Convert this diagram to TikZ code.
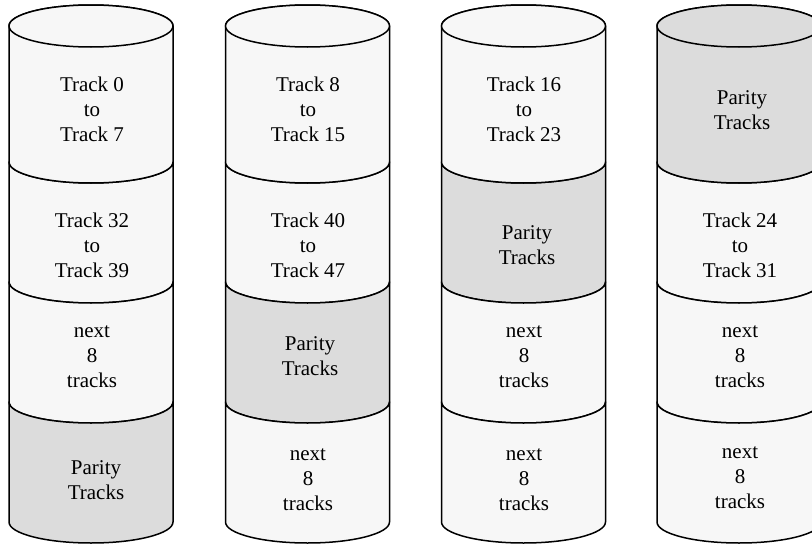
\documentclass[tikz,border=0pt]{standalone}
\usepackage{fontspec}
\setmainfont{Liberation Serif}
\definecolor{bandlight}{HTML}{F7F7F7}
\definecolor{bandgrey}{HTML}{DCDCDC}

% top band of a disk: cx, fill
\newcommand\disktop[2]{%
  \filldraw[disk, fill=#2] (#1-82,-26) -- (#1-82,-162)
    arc[start angle=180, end angle=360, x radius=82, y radius=21]
    -- (#1+82,-26)
    arc[start angle=0, end angle=180, x radius=82, y radius=21] -- cycle;
  \filldraw[disk, fill=#2] (#1,-26) ellipse[x radius=82, y radius=21];
}
% lower band of a disk: cx, upper side y, lower side y, fill
\newcommand\diskband[4]{%
  \filldraw[disk, fill=#4] (#1-82,#2) -- (#1-82,#3)
    arc[start angle=180, end angle=360, x radius=82, y radius=21]
    -- (#1+82,#2)
    arc[start angle=360, end angle=180, x radius=82, y radius=21] -- cycle;
}

\begin{document}
\begin{tikzpicture}[x=1pt, y=1pt,
  disk/.style={draw=black, line width=1.5pt, line join=round},
  label/.style={align=center, font=\fontsize{21}{25}\selectfont, inner sep=0pt}]
\useasboundingbox (0,0) rectangle (812,-546);

% disk 1
\diskband{91}{-162}{-282}{bandlight}
\diskband{91}{-282}{-402}{bandlight}
\diskband{91}{-402}{-522}{bandgrey}
\disktop{91}{bandlight}
% disk 2
\diskband{307.5}{-162}{-282}{bandlight}
\diskband{307.5}{-282}{-402}{bandgrey}
\diskband{307.5}{-402}{-522}{bandlight}
\disktop{307.5}{bandlight}
% disk 3
\diskband{523.5}{-162}{-282}{bandgrey}
\diskband{523.5}{-282}{-402}{bandlight}
\diskband{523.5}{-402}{-522}{bandlight}
\disktop{523.5}{bandlight}
% disk 4
\diskband{739}{-162}{-282}{bandlight}
\diskband{739}{-282}{-402}{bandlight}
\diskband{739}{-402}{-522}{bandlight}
\disktop{739}{bandgrey}

% band labels
\node[label] (d1a) at (92,-109) {Track 0\\to\\Track 7};
\node[label] (d1b) at (92,-245) {Track 32\\to\\Track 39};
\node[label] (d1c) at (92,-357) {next\\8\\tracks};
\node[label] (d1d) at (96,-480) {Parity\\Tracks};

\node[label] (d2a) at (308,-109) {Track 8\\to\\Track 15};
\node[label] (d2b) at (308,-245) {Track 40\\to\\Track 47};
\node[label] (d2c) at (310,-356) {Parity\\Tracks};
\node[label] (d2d) at (308,-480) {next\\8\\tracks};

\node[label] (d3a) at (524,-109) {Track 16\\to\\Track 23};
\node[label] (d3b) at (527,-245) {Parity\\Tracks};
\node[label] (d3c) at (524,-357) {next\\8\\tracks};
\node[label] (d3d) at (524,-480) {next\\8\\tracks};

\node[label] (d4a) at (742,-110) {Parity\\Tracks};
\node[label] (d4b) at (740,-245) {Track 24\\to\\Track 31};
\node[label] (d4c) at (740,-357) {next\\8\\tracks};
\node[label] (d4d) at (740,-478) {next\\8\\tracks};
\end{tikzpicture}
\end{document}
